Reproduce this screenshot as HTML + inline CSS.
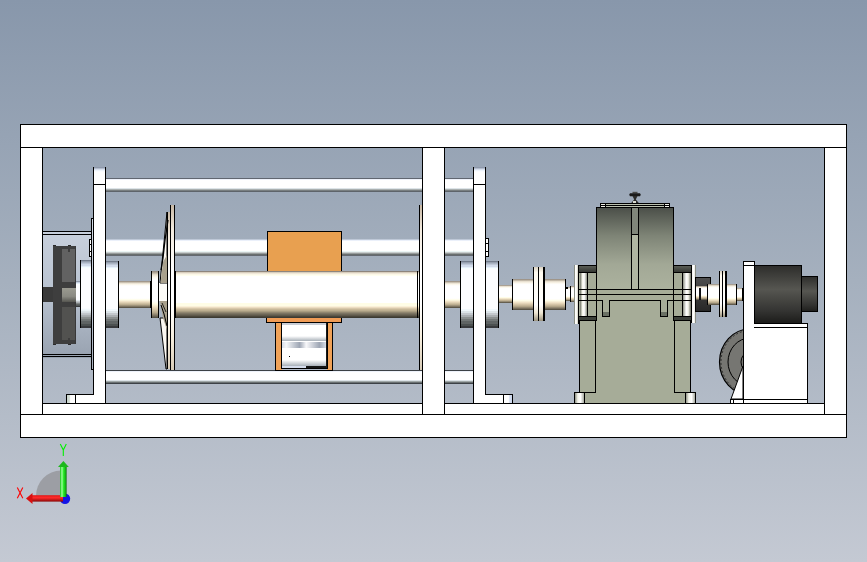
<!DOCTYPE html>
<html><head><meta charset="utf-8">
<style>
html,body{margin:0;padding:0;width:867px;height:562px;overflow:hidden;}
body{font-family:"Liberation Sans",sans-serif;}
svg{display:block;}
</style></head>
<body>
<svg width="867" height="562" viewBox="0 0 867 562" shape-rendering="crispEdges">
<defs>
<linearGradient id="bg" x1="0" y1="0" x2="0" y2="1"><stop offset="0.0000" stop-color="#8897ab"/><stop offset="0.5000" stop-color="#a5b0be"/><stop offset="1.0000" stop-color="#c4c9d3"/></linearGradient>
<linearGradient id="rod1" x1="0" y1="0" x2="0" y2="1"><stop offset="0.0357" stop-color="#606670"/><stop offset="0.1071" stop-color="#eef2fa"/><stop offset="0.1786" stop-color="#ffffff"/><stop offset="0.2500" stop-color="#ffffff"/><stop offset="0.3214" stop-color="#ffffff"/><stop offset="0.3929" stop-color="#ffffff"/><stop offset="0.4643" stop-color="#ffffff"/><stop offset="0.5357" stop-color="#ffffff"/><stop offset="0.6071" stop-color="#ffffff"/><stop offset="0.6786" stop-color="#ffffff"/><stop offset="0.7500" stop-color="#dde4e8"/><stop offset="0.8214" stop-color="#aab0b0"/><stop offset="0.8929" stop-color="#787e80"/><stop offset="0.9643" stop-color="#5e646a"/></linearGradient>
<linearGradient id="rod2" x1="0" y1="0" x2="0" y2="1"><stop offset="0.0294" stop-color="#bec8d7"/><stop offset="0.0882" stop-color="#ebf0fa"/><stop offset="0.1471" stop-color="#ffffff"/><stop offset="0.2059" stop-color="#ffffff"/><stop offset="0.2647" stop-color="#ffffff"/><stop offset="0.3235" stop-color="#ffffff"/><stop offset="0.3824" stop-color="#ffffff"/><stop offset="0.4412" stop-color="#ffffff"/><stop offset="0.5000" stop-color="#ffffff"/><stop offset="0.5588" stop-color="#ffffff"/><stop offset="0.6176" stop-color="#ffffff"/><stop offset="0.6765" stop-color="#ffffff"/><stop offset="0.7353" stop-color="#ebf5f5"/><stop offset="0.7941" stop-color="#c8cdcd"/><stop offset="0.8529" stop-color="#969b9b"/><stop offset="0.9118" stop-color="#696e6e"/><stop offset="0.9706" stop-color="#646970"/></linearGradient>
<linearGradient id="rod3" x1="0" y1="0" x2="0" y2="1"><stop offset="0.0357" stop-color="#3c4146"/><stop offset="0.1071" stop-color="#eef2fa"/><stop offset="0.1786" stop-color="#ffffff"/><stop offset="0.2500" stop-color="#ffffff"/><stop offset="0.3214" stop-color="#ffffff"/><stop offset="0.3929" stop-color="#ffffff"/><stop offset="0.4643" stop-color="#ffffff"/><stop offset="0.5357" stop-color="#ffffff"/><stop offset="0.6071" stop-color="#ffffff"/><stop offset="0.6786" stop-color="#ffffff"/><stop offset="0.7500" stop-color="#dde4e8"/><stop offset="0.8214" stop-color="#a0a8a8"/><stop offset="0.8929" stop-color="#6a7072"/><stop offset="0.9643" stop-color="#3c4146"/></linearGradient>
<linearGradient id="drum" x1="0" y1="0" x2="0" y2="1"><stop offset="0.0106" stop-color="#8e857c"/><stop offset="0.0319" stop-color="#d8cebe"/><stop offset="0.0532" stop-color="#f0e8d8"/><stop offset="0.0745" stop-color="#fcf8e8"/><stop offset="0.0957" stop-color="#fffff0"/><stop offset="0.1170" stop-color="#ffffff"/><stop offset="0.1383" stop-color="#ffffff"/><stop offset="0.1596" stop-color="#ffffff"/><stop offset="0.1809" stop-color="#ffffff"/><stop offset="0.2021" stop-color="#ffffff"/><stop offset="0.2234" stop-color="#ffffff"/><stop offset="0.2447" stop-color="#ffffff"/><stop offset="0.2660" stop-color="#ffffff"/><stop offset="0.2872" stop-color="#ffffff"/><stop offset="0.3085" stop-color="#ffffff"/><stop offset="0.3298" stop-color="#ffffff"/><stop offset="0.3511" stop-color="#ffffff"/><stop offset="0.3723" stop-color="#ffffff"/><stop offset="0.3936" stop-color="#ffffff"/><stop offset="0.4149" stop-color="#ffffff"/><stop offset="0.4362" stop-color="#ffffff"/><stop offset="0.4574" stop-color="#ffffff"/><stop offset="0.4787" stop-color="#ffffff"/><stop offset="0.5000" stop-color="#ffffff"/><stop offset="0.5213" stop-color="#ffffff"/><stop offset="0.5426" stop-color="#ffffff"/><stop offset="0.5638" stop-color="#ffffff"/><stop offset="0.5851" stop-color="#ffffff"/><stop offset="0.6064" stop-color="#ffffff"/><stop offset="0.6277" stop-color="#ffffff"/><stop offset="0.6489" stop-color="#ffffff"/><stop offset="0.6702" stop-color="#ffffff"/><stop offset="0.6915" stop-color="#fffde6"/><stop offset="0.7128" stop-color="#fffde6"/><stop offset="0.7340" stop-color="#fffde6"/><stop offset="0.7553" stop-color="#faf0d8"/><stop offset="0.7766" stop-color="#ecdcc0"/><stop offset="0.7979" stop-color="#d8c8aa"/><stop offset="0.8191" stop-color="#c8b898"/><stop offset="0.8404" stop-color="#bcae90"/><stop offset="0.8617" stop-color="#a89c80"/><stop offset="0.8830" stop-color="#908670"/><stop offset="0.9043" stop-color="#7c7462"/><stop offset="0.9255" stop-color="#6c6656"/><stop offset="0.9468" stop-color="#5e584a"/><stop offset="0.9681" stop-color="#4a463a"/><stop offset="0.9894" stop-color="#3c3a32"/></linearGradient>
<linearGradient id="shaft" x1="0" y1="0" x2="0" y2="1"><stop offset="0.0000" stop-color="#8e857c"/><stop offset="0.0400" stop-color="#b8ae9e"/><stop offset="0.0800" stop-color="#e8e0d0"/><stop offset="0.1300" stop-color="#fcf8ec"/><stop offset="0.1800" stop-color="#ffffff"/><stop offset="0.6400" stop-color="#ffffff"/><stop offset="0.7000" stop-color="#fffde6"/><stop offset="0.7600" stop-color="#f0e2c6"/><stop offset="0.8200" stop-color="#d6c6a8"/><stop offset="0.8800" stop-color="#b8aa8c"/><stop offset="0.9400" stop-color="#847a66"/><stop offset="1.0000" stop-color="#4a463a"/></linearGradient>
<linearGradient id="brg" x1="0" y1="0" x2="0" y2="1"><stop offset="0.0075" stop-color="#737d8c"/><stop offset="0.0224" stop-color="#96a0af"/><stop offset="0.0373" stop-color="#aab4c3"/><stop offset="0.0522" stop-color="#bec8d7"/><stop offset="0.0672" stop-color="#d2dceb"/><stop offset="0.0821" stop-color="#d2dceb"/><stop offset="0.0970" stop-color="#e6f0fa"/><stop offset="0.1119" stop-color="#f5ffff"/><stop offset="0.1269" stop-color="#fcfdff"/><stop offset="0.1418" stop-color="#fcfdff"/><stop offset="0.1567" stop-color="#fcfdff"/><stop offset="0.1716" stop-color="#fcfdff"/><stop offset="0.1866" stop-color="#fcfdff"/><stop offset="0.2015" stop-color="#fcfdff"/><stop offset="0.2164" stop-color="#fcfdff"/><stop offset="0.2313" stop-color="#fcfdff"/><stop offset="0.2463" stop-color="#fcfdff"/><stop offset="0.2612" stop-color="#fcfdff"/><stop offset="0.2761" stop-color="#fcfdff"/><stop offset="0.2910" stop-color="#fcfdff"/><stop offset="0.3060" stop-color="#fcfdff"/><stop offset="0.3209" stop-color="#fcfdff"/><stop offset="0.3358" stop-color="#fcfdff"/><stop offset="0.3507" stop-color="#fcfdff"/><stop offset="0.3657" stop-color="#fcfdff"/><stop offset="0.3806" stop-color="#fcfdff"/><stop offset="0.3955" stop-color="#fcfdff"/><stop offset="0.4104" stop-color="#fcfdff"/><stop offset="0.4254" stop-color="#fcfdff"/><stop offset="0.4403" stop-color="#fcfdff"/><stop offset="0.4552" stop-color="#fcfdff"/><stop offset="0.4701" stop-color="#fcfdff"/><stop offset="0.4851" stop-color="#fcfdff"/><stop offset="0.5000" stop-color="#fcfdff"/><stop offset="0.5149" stop-color="#fcfdff"/><stop offset="0.5299" stop-color="#fcfdff"/><stop offset="0.5448" stop-color="#fcfdff"/><stop offset="0.5597" stop-color="#fcfdff"/><stop offset="0.5746" stop-color="#fcfdff"/><stop offset="0.5896" stop-color="#fcfdff"/><stop offset="0.6045" stop-color="#fcfdff"/><stop offset="0.6194" stop-color="#fcfdff"/><stop offset="0.6343" stop-color="#fcfdff"/><stop offset="0.6493" stop-color="#fcfdff"/><stop offset="0.6642" stop-color="#fcfdff"/><stop offset="0.6791" stop-color="#fcfdff"/><stop offset="0.6940" stop-color="#fcfdff"/><stop offset="0.7090" stop-color="#fcfdff"/><stop offset="0.7239" stop-color="#f0f8fc"/><stop offset="0.7388" stop-color="#f0f8fc"/><stop offset="0.7537" stop-color="#dce4e8"/><stop offset="0.7687" stop-color="#dce4e8"/><stop offset="0.7836" stop-color="#c3c8cd"/><stop offset="0.7985" stop-color="#c3c8cd"/><stop offset="0.8134" stop-color="#aaafb2"/><stop offset="0.8284" stop-color="#aaafb2"/><stop offset="0.8433" stop-color="#8c9191"/><stop offset="0.8582" stop-color="#8c9191"/><stop offset="0.8731" stop-color="#737878"/><stop offset="0.8881" stop-color="#737878"/><stop offset="0.9030" stop-color="#5f6464"/><stop offset="0.9179" stop-color="#5f6464"/><stop offset="0.9328" stop-color="#5f6464"/><stop offset="0.9478" stop-color="#4b5050"/><stop offset="0.9627" stop-color="#4b5050"/><stop offset="0.9776" stop-color="#37393c"/><stop offset="0.9925" stop-color="#37393c"/></linearGradient>
<linearGradient id="flg" x1="0" y1="0" x2="0" y2="1"><stop offset="0.0000" stop-color="#d8d0c0"/><stop offset="0.1000" stop-color="#fffbf0"/><stop offset="0.7000" stop-color="#ffffff"/><stop offset="0.8500" stop-color="#eee6d2"/><stop offset="1.0000" stop-color="#9a927e"/></linearGradient>
<linearGradient id="gbtop" x1="0" y1="0" x2="0" y2="1"><stop offset="0.0000" stop-color="#4a4e48"/><stop offset="0.3500" stop-color="#7e8476"/><stop offset="0.7000" stop-color="#a2a896"/><stop offset="1.0000" stop-color="#acb29e"/></linearGradient>
<linearGradient id="motor" x1="0" y1="0" x2="0" y2="1"><stop offset="0.0000" stop-color="#2c2c2a"/><stop offset="0.4200" stop-color="#565651"/><stop offset="0.8000" stop-color="#333331"/><stop offset="1.0000" stop-color="#1c1c1a"/></linearGradient>
<linearGradient id="hubg" x1="0" y1="0" x2="0" y2="1"><stop offset="0.0000" stop-color="#9a9a90"/><stop offset="0.6000" stop-color="#8a8a82"/><stop offset="1.0000" stop-color="#555550"/></linearGradient>
<linearGradient id="beigeh" x1="0" y1="0" x2="1" y2="0"><stop offset="0.0000" stop-color="#a89c84"/><stop offset="0.4500" stop-color="#f6efe2"/><stop offset="1.0000" stop-color="#ece4d4"/></linearGradient>
<linearGradient id="inrow" x1="0" y1="0" x2="0" y2="1"><stop offset="0.0000" stop-color="#ffffff"/><stop offset="1.0000" stop-color="#a8b0b8"/></linearGradient>
<linearGradient id="band" x1="0" y1="0" x2="1" y2="0"><stop offset="0.0000" stop-color="#d8dee8"/><stop offset="0.1000" stop-color="#f4f6f8"/><stop offset="0.4000" stop-color="#9ea6b4"/><stop offset="0.5500" stop-color="#f8f8fa"/><stop offset="0.8500" stop-color="#9ea6b4"/><stop offset="1.0000" stop-color="#d8dee8"/></linearGradient>
<linearGradient id="capd" x1="0" y1="0" x2="0" y2="1"><stop offset="0.0000" stop-color="#5a5e56"/><stop offset="1.0000" stop-color="#2e302c"/></linearGradient>
<linearGradient id="cylh" x1="0" y1="0" x2="1" y2="0"><stop offset="0.0000" stop-color="#6c7062"/><stop offset="0.3500" stop-color="#f4f4ea"/><stop offset="0.6000" stop-color="#ffffff"/><stop offset="1.0000" stop-color="#8a8e80"/></linearGradient>
<linearGradient id="collar" x1="0" y1="0" x2="0" y2="1"><stop offset="0.0000" stop-color="#505050"/><stop offset="0.5000" stop-color="#3a3a3a"/><stop offset="1.0000" stop-color="#262626"/></linearGradient>
<linearGradient id="xax" x1="0" y1="0" x2="0" y2="1"><stop offset="0.0000" stop-color="#e01818"/><stop offset="0.4000" stop-color="#ff2a2a"/><stop offset="1.0000" stop-color="#8a0808"/></linearGradient>
<linearGradient id="yax" x1="0" y1="0" x2="1" y2="0"><stop offset="0.0000" stop-color="#10c010"/><stop offset="0.3000" stop-color="#a0ffa0"/><stop offset="0.5000" stop-color="#30f030"/><stop offset="0.8500" stop-color="#10b010"/><stop offset="1.0000" stop-color="#087008"/></linearGradient>
<linearGradient id="ptop" x1="0" y1="0" x2="0" y2="1"><stop offset="0.1000" stop-color="#8e98aa"/><stop offset="0.3000" stop-color="#b4bece"/><stop offset="0.5000" stop-color="#d8e0ee"/><stop offset="0.7000" stop-color="#eef4fc"/><stop offset="0.9000" stop-color="#fafcff"/></linearGradient>
<linearGradient id="cylh2" x1="0" y1="0" x2="1" y2="0"><stop offset="0.0000" stop-color="#ffffff"/><stop offset="0.5500" stop-color="#ffffff"/><stop offset="0.7000" stop-color="#dae2f2"/><stop offset="1.0000" stop-color="#c8d4ec"/></linearGradient>
<linearGradient id="cylh3" x1="0" y1="0" x2="1" y2="0"><stop offset="0.0000" stop-color="#c8d4cc"/><stop offset="0.3000" stop-color="#d4dcd4"/><stop offset="0.4500" stop-color="#ffffff"/><stop offset="1.0000" stop-color="#ffffff"/></linearGradient>
<linearGradient id="thind" x1="0" y1="0" x2="0" y2="1"><stop offset="0.0000" stop-color="#c8b8a4"/><stop offset="0.1500" stop-color="#f4ece0"/><stop offset="0.4000" stop-color="#ffffff"/><stop offset="0.6000" stop-color="#ffffff"/><stop offset="0.8000" stop-color="#f8f0e0"/><stop offset="1.0000" stop-color="#d8ccb8"/></linearGradient>
<linearGradient id="face" x1="0" y1="0" x2="1" y2="0"><stop offset="0.0000" stop-color="#a8aca0"/><stop offset="0.3000" stop-color="#ffffff"/><stop offset="0.7000" stop-color="#f8f8f0"/><stop offset="1.0000" stop-color="#c8c8bc"/></linearGradient>
<linearGradient id="face2" x1="0" y1="0" x2="1" y2="0"><stop offset="0.0000" stop-color="#f0f0e8"/><stop offset="0.4000" stop-color="#ffffff"/><stop offset="0.7500" stop-color="#e8e8e0"/><stop offset="1.0000" stop-color="#a8aca0"/></linearGradient>
<linearGradient id="strip" x1="0" y1="0" x2="0" y2="1"><stop offset="0.0000" stop-color="#d4dce8"/><stop offset="0.5000" stop-color="#c4ccd8"/><stop offset="1.0000" stop-color="#a8b0bf"/></linearGradient>
<linearGradient id="cylhr" x1="0" y1="0" x2="1" y2="0"><stop offset="0.0000" stop-color="#8a8e80"/><stop offset="0.4000" stop-color="#ffffff"/><stop offset="0.6500" stop-color="#f4f4ea"/><stop offset="1.0000" stop-color="#6c7062"/></linearGradient>
<linearGradient id="fanbox" x1="0" y1="0" x2="0" y2="1"><stop offset="0.0000" stop-color="#c8d0dc"/><stop offset="0.5000" stop-color="#b8c2d0"/><stop offset="1.0000" stop-color="#98a2b0"/></linearGradient>
</defs>
<rect x="0" y="0" width="867" height="562" fill="url(#bg)"/>
<rect x="42" y="231" width="50" height="127" fill="url(#fanbox)"/>
<rect x="42" y="231" width="50" height="1" fill="#000"/>
<rect x="42" y="234" width="50" height="1" fill="#000"/>
<rect x="42" y="354" width="50" height="1" fill="#000"/>
<rect x="42" y="356" width="50" height="1" fill="#000"/>
<rect x="106" y="178" width="367" height="14" fill="url(#rod1)"/>
<rect x="106" y="239" width="367" height="17" fill="url(#rod2)"/>
<rect x="106" y="370" width="367" height="14" fill="url(#rod3)"/>
<rect x="53" y="246" width="23" height="98" fill="#3e3e3e"/>
<rect x="53" y="344" width="3" height="1" fill="#2a2a2a"/>
<rect x="68" y="344" width="3" height="1" fill="#2a2a2a"/>
<rect x="53" y="245" width="3" height="1" fill="#2a2a2a"/>
<rect x="68" y="245" width="3" height="1" fill="#2a2a2a"/>
<rect x="75" y="246" width="1" height="98" fill="#383838"/>
<rect x="62" y="249" width="13" height="33" fill="#626262"/>
<rect x="68" y="249" width="2" height="3" fill="#3e3e3e"/>
<rect x="62" y="307" width="13" height="33" fill="#525250"/>
<rect x="68" y="338" width="2" height="3" fill="#3e3e3e"/>
<rect x="42" y="287" width="11" height="15" fill="#3a3a3a"/>
<rect x="62" y="288" width="14" height="14" fill="url(#hubg)"/>
<rect x="76" y="281" width="4" height="26" fill="url(#brg)"/>
<rect x="80" y="260" width="12" height="68" fill="url(#brg)"/>
<rect x="80" y="260" width="1" height="68" fill="#000"/>
<rect x="91" y="260" width="1" height="68" fill="#000"/>
<rect x="93" y="167" width="13" height="236" fill="#fff"/>
<rect x="93" y="167" width="13" height="5" fill="url(#ptop)"/>
<rect x="66" y="394" width="28" height="9" fill="#fff"/>
<rect x="93" y="167" width="1" height="228" fill="#000"/>
<rect x="105" y="167" width="1" height="236" fill="#000"/>
<rect x="93" y="184" width="13" height="1" fill="#000"/>
<rect x="66" y="394" width="28" height="1" fill="#000"/>
<rect x="66" y="394" width="1" height="9" fill="#000"/>
<rect x="67" y="395" width="8" height="8" fill="url(#cylh3)"/>
<rect x="75" y="394" width="1" height="9" fill="#000"/>
<rect x="91" y="218" width="2" height="152" fill="url(#strip)"/>
<rect x="91" y="218" width="1" height="152" fill="#000"/>
<rect x="91" y="218" width="2" height="1" fill="#000"/>
<rect x="91" y="369" width="2" height="1" fill="#000"/>
<rect x="89" y="239" width="3" height="18" fill="#fff"/>
<rect x="89" y="239" width="1" height="18" fill="#000"/>
<rect x="89" y="239" width="3" height="1" fill="#000"/>
<rect x="89" y="256" width="3" height="1" fill="#000"/>
<rect x="89" y="244" width="3" height="1" fill="#000"/>
<rect x="89" y="251" width="3" height="1" fill="#000"/>
<rect x="91" y="239" width="1" height="18" fill="#000"/>
<rect x="106" y="261" width="13" height="67" fill="url(#brg)"/>
<rect x="118" y="261" width="1" height="67" fill="#000"/>
<rect x="119" y="281" width="32" height="27" fill="url(#shaft)"/>
<rect x="150" y="281" width="1" height="27" fill="#000"/>
<rect x="151" y="271" width="8" height="47" fill="url(#shaft)"/>
<rect x="151" y="271" width="1" height="47" fill="#000"/>
<rect x="158" y="271" width="1" height="47" fill="#000"/>
<rect x="167" y="212" width="3" height="157" fill="url(#thind)"/>
<rect x="159" y="283" width="8" height="18" fill="#fdfcf8"/>
<g shape-rendering="auto">
<path d="M167,212 L160,283 L167,283 Z" fill="#fbf8f2" stroke="#000" stroke-width="1"/>
<path d="M160,318 L166,369 L167,369 L167,318 Z" fill="#fbf8f2" stroke="#000" stroke-width="1"/>
<path d="M160.5,283 L163,262 L167,255 L167,283 Z" fill="#a8a08c"/>
<path d="M168,220 L165,240 L163,258 L161,270" fill="none" stroke="#000" stroke-width="1.3"/>
<path d="M160,301 L167,301 L167,330 L163,318 Z" fill="#a8a08c"/>
<path d="M161,305 L164,314 L167,326" fill="none" stroke="#000" stroke-width="1"/>
<path d="M162,303 L166,312" fill="none" stroke="#000" stroke-width="0.8"/>
</g>
<rect x="167" y="212" width="1" height="157" fill="#000"/>
<rect x="170" y="205" width="5" height="165" fill="url(#thind)"/>
<rect x="170" y="205" width="1" height="165" fill="#000"/>
<rect x="174" y="205" width="1" height="165" fill="#000"/>
<rect x="267" y="231" width="75" height="40" fill="#e8a050"/>
<rect x="267" y="231" width="1" height="40" fill="#000"/>
<rect x="341" y="231" width="1" height="40" fill="#000"/>
<rect x="267" y="231" width="75" height="1" fill="#000"/>
<rect x="175" y="271" width="243" height="47" fill="url(#drum)"/>
<rect x="175" y="271" width="1" height="47" fill="#000"/>
<rect x="417" y="271" width="1" height="47" fill="#000"/>
<rect x="266" y="318" width="76" height="5" fill="#f09c56"/>
<rect x="266" y="318" width="1" height="5" fill="#000"/>
<rect x="341" y="318" width="1" height="5" fill="#000"/>
<rect x="266" y="322" width="76" height="1" fill="#000"/>
<rect x="282" y="323" width="44" height="46" fill="#fff"/>
<rect x="282" y="323" width="44" height="2" fill="#c8ccd4"/>
<rect x="282" y="336" width="44" height="5" fill="url(#inrow)"/>
<rect x="282" y="342" width="44" height="6" fill="url(#band)"/>
<rect x="282" y="360" width="44" height="6" fill="url(#inrow)"/>
<rect x="282" y="366" width="24" height="2" fill="#d4dcec"/>
<rect x="306" y="366" width="20" height="2" fill="#141414"/>
<rect x="326" y="323" width="1" height="46" fill="#1a1a1a"/>
<rect x="289" y="356" width="1" height="1" fill="#000"/>
<rect x="275" y="323" width="7" height="48" fill="#f0a258"/>
<rect x="275" y="323" width="1" height="48" fill="#000"/>
<rect x="281" y="323" width="1" height="46" fill="#000"/>
<rect x="327" y="323" width="6" height="48" fill="#f0a258"/>
<rect x="327" y="323" width="1" height="46" fill="#000"/>
<rect x="332" y="323" width="1" height="48" fill="#000"/>
<rect x="281" y="368" width="47" height="1" fill="#000"/>
<rect x="275" y="370" width="58" height="1" fill="#000"/>
<rect x="420" y="205" width="2" height="165" fill="url(#thind)"/>
<rect x="419" y="205" width="1" height="165" fill="#000"/>
<rect x="418" y="271" width="1" height="47" fill="url(#drum)"/>
<rect x="444" y="281" width="16" height="27" fill="url(#shaft)"/>
<rect x="460" y="261" width="39" height="67" fill="url(#brg)"/>
<rect x="460" y="261" width="1" height="67" fill="#000"/>
<rect x="498" y="261" width="1" height="67" fill="#000"/>
<rect x="473" y="167" width="13" height="236" fill="#fff"/>
<rect x="473" y="167" width="13" height="5" fill="url(#ptop)"/>
<rect x="485" y="394" width="28" height="9" fill="#fff"/>
<rect x="473" y="167" width="1" height="236" fill="#000"/>
<rect x="485" y="167" width="1" height="228" fill="#000"/>
<rect x="473" y="184" width="13" height="1" fill="#000"/>
<rect x="485" y="394" width="28" height="1" fill="#000"/>
<rect x="512" y="394" width="1" height="9" fill="#000"/>
<rect x="504" y="395" width="8" height="8" fill="url(#cylh2)"/>
<rect x="503" y="394" width="1" height="9" fill="#000"/>
<rect x="486" y="238" width="3" height="19" fill="#fff"/>
<rect x="488" y="238" width="1" height="19" fill="#000"/>
<rect x="486" y="238" width="3" height="1" fill="#000"/>
<rect x="486" y="256" width="3" height="1" fill="#000"/>
<rect x="486" y="243" width="3" height="1" fill="#000"/>
<rect x="486" y="251" width="3" height="1" fill="#000"/>
<rect x="499" y="285" width="14" height="18" fill="url(#shaft)"/>
<rect x="512" y="285" width="1" height="18" fill="#000"/>
<rect x="512" y="279" width="22" height="31" fill="url(#shaft)"/>
<rect x="512" y="279" width="1" height="31" fill="#000"/>
<rect x="533" y="279" width="1" height="31" fill="#000"/>
<rect x="533" y="267" width="12" height="54" fill="url(#flg)"/>
<rect x="533" y="267" width="1" height="54" fill="#000"/>
<rect x="538" y="267" width="1" height="54" fill="#000"/>
<rect x="543" y="267" width="2" height="54" fill="#000"/>
<rect x="545" y="279" width="21" height="31" fill="url(#shaft)"/>
<rect x="565" y="279" width="1" height="31" fill="#000"/>
<rect x="566" y="287" width="4" height="14" fill="url(#shaft)"/>
<rect x="570" y="286" width="4" height="16" fill="url(#shaft)"/>
<rect x="570" y="286" width="1" height="16" fill="#000"/>
<rect x="566" y="287" width="2" height="2" fill="#000"/>
<rect x="579" y="300" width="112" height="93" fill="#a6ac98"/>
<rect x="585" y="392" width="100" height="12" fill="#a6ac98"/>
<rect x="579" y="300" width="1" height="93" fill="#000"/>
<rect x="690" y="300" width="1" height="93" fill="#000"/>
<rect x="579" y="392" width="7" height="1" fill="#000"/>
<rect x="685" y="392" width="6" height="1" fill="#000"/>
<rect x="585" y="403" width="101" height="1" fill="#000"/>
<rect x="595" y="321" width="1" height="72" fill="#000"/>
<rect x="585" y="392" width="11" height="1" fill="#000"/>
<rect x="674" y="321" width="1" height="72" fill="#000"/>
<rect x="674" y="392" width="12" height="1" fill="#000"/>
<rect x="596" y="207" width="78" height="82" fill="url(#gbtop)"/>
<rect x="596" y="207" width="1" height="83" fill="#000"/>
<rect x="673" y="207" width="1" height="83" fill="#000"/>
<rect x="596" y="207" width="78" height="1" fill="#000"/>
<rect x="600" y="203" width="70" height="4" fill="#bcc2b0"/>
<rect x="600" y="203" width="70" height="1" fill="#000"/>
<rect x="600" y="205" width="70" height="1" fill="#000"/>
<rect x="600" y="203" width="1" height="4" fill="#000"/>
<rect x="669" y="203" width="1" height="4" fill="#000"/>
<rect x="601" y="204" width="4" height="1" fill="#f0f0e8"/>
<rect x="601" y="206" width="4" height="1" fill="#f0f0e8"/>
<rect x="665" y="204" width="4" height="1" fill="#f0f0e8"/>
<rect x="665" y="206" width="4" height="1" fill="#f0f0e8"/>
<rect x="605" y="203" width="1" height="4" fill="#000"/>
<rect x="664" y="203" width="1" height="4" fill="#000"/>
<rect x="631" y="208" width="8" height="26" fill="#80867a"/>
<rect x="631" y="234" width="8" height="55" fill="#b0b6a2"/>
<rect x="631" y="207" width="1" height="83" fill="#000"/>
<rect x="638" y="207" width="1" height="83" fill="#000"/>
<rect x="631" y="234" width="8" height="1" fill="#000"/>
<rect x="579" y="289" width="112" height="11" fill="#a6ac98"/>
<rect x="579" y="289" width="112" height="1" fill="#000"/>
<rect x="579" y="294" width="112" height="1" fill="#000"/>
<rect x="579" y="300" width="112" height="1" fill="#000"/>
<rect x="602" y="300" width="8" height="17" fill="#a6ac98"/>
<rect x="603" y="312" width="6" height="4" fill="#6a7064"/>
<rect x="602" y="300" width="1" height="17" fill="#000"/>
<rect x="609" y="300" width="1" height="17" fill="#000"/>
<rect x="602" y="316" width="8" height="1" fill="#000"/>
<rect x="660" y="300" width="8" height="17" fill="#a6ac98"/>
<rect x="661" y="312" width="6" height="4" fill="#6a7064"/>
<rect x="660" y="300" width="1" height="17" fill="#000"/>
<rect x="667" y="300" width="1" height="17" fill="#000"/>
<rect x="660" y="316" width="8" height="1" fill="#000"/>
<rect x="578" y="265" width="19" height="56" fill="#a6ac98"/>
<rect x="578" y="266" width="19" height="7" fill="url(#capd)"/>
<rect x="578" y="316" width="19" height="5" fill="#3c403a"/>
<rect x="578" y="265" width="19" height="1" fill="#000"/>
<rect x="578" y="272" width="19" height="1" fill="#000"/>
<rect x="578" y="316" width="19" height="1" fill="#000"/>
<rect x="578" y="320" width="19" height="1" fill="#000"/>
<rect x="578" y="265" width="1" height="56" fill="#000"/>
<rect x="596" y="265" width="1" height="56" fill="#000"/>
<rect x="580" y="273" width="7" height="43" fill="url(#cylh)"/>
<rect x="587" y="273" width="1" height="43" fill="#000"/>
<rect x="578" y="289" width="19" height="1" fill="#000"/>
<rect x="578" y="294" width="19" height="1" fill="#000"/>
<rect x="578" y="300" width="19" height="1" fill="#000"/>
<rect x="578" y="272" width="19" height="1" fill="#000"/>
<rect x="578" y="316" width="19" height="1" fill="#000"/>
<rect x="673" y="265" width="19" height="56" fill="#a6ac98"/>
<rect x="673" y="266" width="19" height="7" fill="url(#capd)"/>
<rect x="673" y="316" width="19" height="5" fill="#3c403a"/>
<rect x="673" y="265" width="19" height="1" fill="#000"/>
<rect x="673" y="272" width="19" height="1" fill="#000"/>
<rect x="673" y="316" width="19" height="1" fill="#000"/>
<rect x="673" y="320" width="19" height="1" fill="#000"/>
<rect x="673" y="265" width="1" height="56" fill="#000"/>
<rect x="691" y="265" width="1" height="56" fill="#000"/>
<rect x="683" y="273" width="8" height="43" fill="url(#cylhr)"/>
<rect x="682" y="273" width="1" height="43" fill="#000"/>
<rect x="673" y="289" width="19" height="1" fill="#000"/>
<rect x="673" y="294" width="19" height="1" fill="#000"/>
<rect x="673" y="300" width="19" height="1" fill="#000"/>
<rect x="673" y="272" width="19" height="1" fill="#000"/>
<rect x="673" y="316" width="19" height="1" fill="#000"/>
<rect x="596" y="265" width="1" height="56" fill="#000"/>
<rect x="574" y="265" width="4" height="59" fill="url(#face)"/>
<rect x="574" y="265" width="1" height="59" fill="#8a8e84"/>
<rect x="578" y="265" width="1" height="59" fill="#000"/>
<rect x="692" y="265" width="4" height="58" fill="url(#face2)"/>
<rect x="695" y="265" width="1" height="58" fill="#8a8e84"/>
<rect x="691" y="265" width="1" height="58" fill="#000"/>
<rect x="574" y="392" width="11" height="12" fill="url(#cylh)"/>
<rect x="574" y="392" width="1" height="12" fill="#000"/>
<rect x="584" y="392" width="1" height="12" fill="#000"/>
<rect x="574" y="392" width="11" height="1" fill="#000"/>
<rect x="685" y="392" width="11" height="12" fill="url(#cylh)"/>
<rect x="685" y="392" width="1" height="12" fill="#000"/>
<rect x="695" y="392" width="1" height="12" fill="#000"/>
<rect x="685" y="392" width="11" height="1" fill="#000"/>
<g shape-rendering="auto">
<path d="M632.5,191.8 H637.5 V193.5 H632.5 Z" fill="#4a4a48"/>
<path d="M630,193.2 H640 Q641.6,194.7 640,196.3 H630 Q628.4,194.7 630,193.2 Z" fill="#1a1a1a"/>
<path d="M632.5,196 L637.5,196 L635.8,199.5 L638.8,203 L631.2,203 L634.2,199.5 Z" fill="#2c2c2a"/>
</g>
<rect x="633" y="201" width="3" height="2" fill="#d8dad0"/>
<rect x="695" y="277" width="16" height="35" fill="url(#collar)"/>
<rect x="695" y="277" width="1" height="35" fill="#000"/>
<rect x="710" y="277" width="1" height="35" fill="#000"/>
<rect x="695" y="277" width="16" height="1" fill="#000"/>
<rect x="695" y="311" width="16" height="1" fill="#000"/>
<rect x="696" y="286" width="11" height="14" fill="url(#shaft)"/>
<rect x="699" y="288" width="2" height="12" fill="#111"/>
<rect x="707" y="284" width="13" height="21" fill="url(#shaft)"/>
<rect x="707" y="284" width="1" height="21" fill="#000"/>
<rect x="719" y="284" width="1" height="21" fill="#000"/>
<rect x="719" y="271" width="8" height="46" fill="url(#flg)"/>
<rect x="719" y="271" width="1" height="46" fill="#000"/>
<rect x="722" y="271" width="1" height="46" fill="#000"/>
<rect x="725" y="271" width="2" height="46" fill="#000"/>
<rect x="727" y="284" width="10" height="21" fill="url(#shaft)"/>
<rect x="736" y="284" width="1" height="21" fill="#000"/>
<rect x="737" y="288" width="6" height="13" fill="url(#shaft)"/>
<rect x="742" y="288" width="1" height="13" fill="#000"/>
<g shape-rendering="auto">
<ellipse cx="750" cy="362" rx="30.5" ry="33" fill="#767672" stroke="#000" stroke-width="1.2"/>
<ellipse cx="750" cy="362" rx="29" ry="31.5" fill="none" stroke="#000" stroke-width="0.6" stroke-dasharray="2 2"/>
<ellipse cx="750" cy="362" rx="22" ry="24" fill="none" stroke="#000" stroke-width="1"/>
<ellipse cx="750" cy="362" rx="9" ry="10" fill="none" stroke="#000" stroke-width="1"/>
<path d="M743,366 L731,399 L743,399 Z" fill="#fff" stroke="#000" stroke-width="1"/>
</g>
<rect x="743" y="261" width="12" height="139" fill="#fff"/>
<rect x="743" y="261" width="1" height="139" fill="#000"/>
<rect x="754" y="261" width="1" height="62" fill="#000"/>
<rect x="743" y="261" width="12" height="1" fill="#000"/>
<rect x="743" y="265" width="12" height="1" fill="#000"/>
<rect x="754" y="261" width="1" height="5" fill="#000"/>
<rect x="755" y="323" width="53" height="77" fill="#fff"/>
<rect x="754" y="323" width="54" height="1" fill="#000"/>
<rect x="754" y="327" width="54" height="1" fill="#000"/>
<rect x="807" y="323" width="1" height="77" fill="#000"/>
<rect x="730" y="399" width="78" height="5" fill="#fff"/>
<rect x="730" y="399" width="78" height="1" fill="#000"/>
<rect x="730" y="399" width="1" height="5" fill="#000"/>
<rect x="807" y="399" width="1" height="5" fill="#000"/>
<rect x="733" y="399" width="1" height="5" fill="#000"/>
<rect x="743" y="399" width="1" height="5" fill="#000"/>
<rect x="755" y="265" width="47" height="58" fill="url(#motor)"/>
<rect x="801" y="265" width="1" height="58" fill="#000"/>
<rect x="755" y="265" width="47" height="1" fill="#000"/>
<rect x="802" y="276" width="16" height="36" fill="url(#motor)"/>
<rect x="817" y="276" width="1" height="36" fill="#000"/>
<rect x="801" y="276" width="17" height="1" fill="#000"/>
<rect x="801" y="311" width="17" height="1" fill="#000"/>
<rect x="20" y="124" width="827" height="24" fill="#fff"/>
<rect x="20" y="414" width="827" height="24" fill="#fff"/>
<rect x="20" y="147" width="23" height="268" fill="#fff"/>
<rect x="824" y="147" width="23" height="268" fill="#fff"/>
<rect x="422" y="147" width="23" height="268" fill="#fff"/>
<rect x="42" y="403" width="782" height="12" fill="#fff"/>
<rect x="20" y="124" width="827" height="1" fill="#000"/>
<rect x="20" y="147" width="827" height="1" fill="#000"/>
<rect x="20" y="414" width="827" height="1" fill="#000"/>
<rect x="20" y="437" width="827" height="1" fill="#000"/>
<rect x="20" y="124" width="1" height="314" fill="#000"/>
<rect x="846" y="124" width="1" height="314" fill="#000"/>
<rect x="42" y="147" width="1" height="268" fill="#000"/>
<rect x="824" y="147" width="1" height="268" fill="#000"/>
<rect x="422" y="147" width="1" height="268" fill="#000"/>
<rect x="444" y="147" width="1" height="268" fill="#000"/>
<rect x="42" y="403" width="381" height="1" fill="#000"/>
<rect x="444" y="403" width="381" height="1" fill="#000"/>
<g shape-rendering="auto">
<path d="M61,496 L61,470.5 A25,25.5 0 0 0 36,496 Z" fill="#9c9ea4"/>
<circle cx="65" cy="498.8" r="5.2" fill="#1414e6"/>
<rect x="32" y="495.2" width="31" height="6.4" fill="url(#xax)"/>
<polygon points="26,498.5 32.5,493 32.5,504" fill="#d81010"/>
<rect x="60" y="466" width="6.6" height="31" fill="url(#yax)"/>
<polygon points="58,467 63.4,461 68.8,467" fill="#1cb81c"/>
<path d="M60.3,444 L63.3,450 L66.3,444 M63.3,450 V456" fill="none" stroke="#00f000" stroke-width="1.1"/>
<path d="M17.3,487.5 L22.8,498.3 M22.8,487.5 L17.3,498.3" fill="none" stroke="#ff0000" stroke-width="1.1"/>
</g>
</svg>
</body></html>
